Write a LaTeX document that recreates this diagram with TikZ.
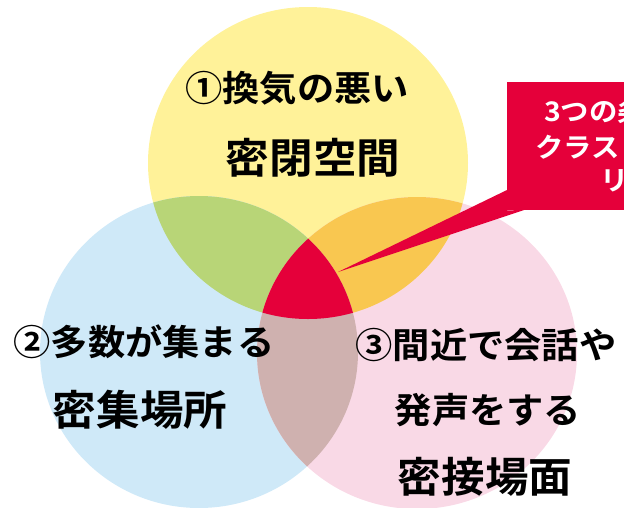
\documentclass[tikz,border=0pt]{standalone}
\usepackage{fontspec}
\newfontfamily\jpb{Noto Sans CJK JP Bold}[FakeStretch=1.05]
\definecolor{cyel}{HTML}{FFF299}
\definecolor{cblue}{HTML}{CFE9F8}
\definecolor{cpink}{HTML}{F9D9E6}
\definecolor{cgreen}{HTML}{B8D577}
\definecolor{corange}{HTML}{F9C750}
\definecolor{cbrown}{HTML}{CFB1AF}
\definecolor{cred}{HTML}{E5003A}
\newcommand\yelpath{(cy) ellipse [x radius=160, y radius=156]}
\newcommand\blupath{(cb) ellipse [x radius=159, y radius=156]}
\newcommand\pnkpath{(cp) ellipse [x radius=160, y radius=156]}
\begin{document}
\begin{tikzpicture}[x=1pt,y=-1pt,
  lbl/.style={font=\jpb\fontsize{35.5}{35.5}\selectfont, inner sep=0pt, text=black},
  lblbig/.style={font=\jpb\fontsize{41.5}{41.5}\selectfont, inner sep=0pt, text=black},
  calltxt/.style={font=\jpb\fontsize{27}{27}\selectfont, text=white, inner sep=0pt, anchor=west}]
\useasboundingbox (0,0) rectangle (624,507);
\clip (0,0) rectangle (624,507);
\coordinate (cy) at (308,163);
\coordinate (cb) at (199,352);
\coordinate (cp) at (417,353);
% circles
\fill[cyel] \yelpath;
\fill[cblue] \blupath;
\fill[cpink] \pnkpath;
\begin{scope}\clip \yelpath; \fill[cgreen] \blupath; \end{scope}
\begin{scope}\clip \yelpath; \fill[corange] \pnkpath; \end{scope}
\begin{scope}\clip \blupath; \fill[cbrown] \pnkpath; \end{scope}
\begin{scope}\clip \yelpath; \clip \blupath; \fill[cred] \pnkpath; \end{scope}
% callout
\node[fill=cred, inner sep=0pt, minimum width=140pt, minimum height=128pt, anchor=north west] (callout) at (507,82) {};
\coordinate (tip) at (338,272);
\fill[cred] (callout.north west |- 0,190) -- (tip) -- (524,210) -- (callout.south west) -- cycle;
\node[calltxt] (c1) at (544,111) {3つの条};
\node[calltxt] (c2) at (535,147) {クラス};
\node[calltxt] (c3) at (600,181) {リ};
% labels
\node[lbl] (a1) at (297,88) {①換気の悪い};
\node[lblbig] (a2) at (313,158) {密閉空間};
\node[lbl] (b1) at (144,342) {②多数が集まる};
\node[lblbig] (b2) at (140,410) {密集場所};
\node[lbl] (p1) at (486,345) {③間近で会話や};
\node[lbl] (p2) at (488,410) {発声をする};
\node[lblbig] (p3) at (485,477) {密接場面};
\end{tikzpicture}
\end{document}
